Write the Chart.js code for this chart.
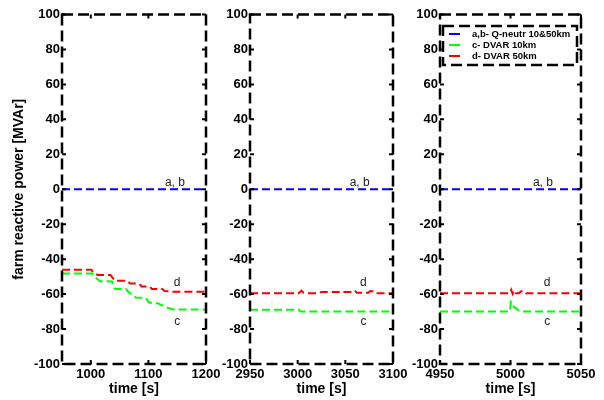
<!DOCTYPE html>
<html>
<head>
<meta charset="utf-8">
<script src="https://cdn.jsdelivr.net/npm/chart.js@4/dist/chart.umd.min.js"></script>
<style>
  html, body { margin: 0; padding: 0; background: #fff; }
  #wrap { position: relative; width: 604px; height: 400px; }
  #wrap canvas { position: absolute; left: 0; top: 0; }
</style>
</head>
<body>
<div id="wrap">
  <canvas id="p1" width="604" height="400"></canvas>
  <canvas id="p2" width="604" height="400"></canvas>
  <canvas id="p3" width="604" height="400"></canvas>
</div>
<script>
// y axis ticks shared by the three panels
const yTicks = [-100, -80, -60, -40, -20, 0, 20, 40, 60, 80, 100];

// panel 1: 950 .. 1200 s
const xTicks1 = [1000, 1100, 1200];
const blue1 = [[950, 0], [1200, 0]];
const green1 = [
  [950, -48.2], [1003, -48.2], [1006, -50], [1016, -52.6], [1037, -52.8],
  [1041, -56.8], [1044, -57.1], [1061, -57.1], [1066, -59], [1078, -61.9],
  [1096, -62.3], [1100, -64.5], [1106, -65.1], [1117, -65.3], [1130, -67.5],
  [1143, -68.8], [1200, -68.8]
];
const red1 = [
  [950, -46.1], [1001, -46.1], [1004, -47.6], [1012, -49], [1034, -49],
  [1042, -52.4], [1064, -52.4], [1068, -54], [1084, -54], [1088, -55.6],
  [1102, -55.6], [1106, -57.1], [1124, -57.1], [1128, -58.3], [1138, -58.5],
  [1142, -58.7], [1200, -58.7]
];

// panel 2: 2950 .. 3100 s
const xTicks2 = [2950, 3000, 3050, 3100];
const blue2 = [[2950, 0], [3100, 0]];
const green2 = [[2950, -69], [3001, -69], [3003, -69.9], [3100, -69.9]];
const red2 = [
  [2950, -59.5], [3001, -59.5], [3004, -58], [3006, -59.2], [3009, -59.5],
  [3022, -59.5], [3025, -58.8], [3043, -58.8], [3045, -58.3], [3047, -58.8],
  [3058, -58.8], [3060, -58], [3062, -59.2], [3074, -59.2], [3076, -58.2],
  [3079, -58.5], [3081, -59.5], [3100, -59.5]
];

// panel 3: 4950 .. 5050 s
const xTicks3 = [4950, 5000, 5050];
const blue3 = [[4950, 0], [5050, 0]];
const green3 = [
  [4950, -70], [4999.5, -70], [5000.3, -64.5], [5001.5, -65.5], [5002.5, -67.5],
  [5004, -68.2], [5006, -69.5], [5008, -70], [5050, -70]
];
const red3 = [
  [4950, -59.5], [4999.5, -59.5], [5000.5, -57.5], [5001.5, -59.8], [5002.5, -58],
  [5003.5, -59.5], [5006, -59.5], [5007.5, -58.4], [5010, -58.4], [5011, -59.5],
  [5050, -59.5]
];

// curve tags [x, y] per panel: "a, b", "d", "c"
const tags1 = [[1146, 4], [1150, -53.3], [1150, -75.8]];
const tags2 = [[3065, 4], [3069, -53.3], [3069, -76]];
const tags3 = [[5023, 4], [5026, -53.3], [5026, -76]];
const tagText = ["a, b", "d", "c"];

const seriesNames = ["a,b- Q-neutr 10&50km", "c- DVAR 10km", "d- DVAR 50km"];
const seriesColors = ["#0000ff", "#00ff00", "#ff0000"];

const FONT = '"Liberation Sans", Arial, sans-serif';

const pts = (arr) => arr.map(([x, y]) => ({ x, y }));

// dashed box around the plot area plus short inward tick marks
const framePlugin = {
  id: "frame",
  afterDatasetsDraw(chart) {
    const { ctx, chartArea: a, scales } = chart;
    ctx.save();
    ctx.strokeStyle = "#000";
    ctx.lineWidth = 2;
    ctx.setLineDash([]);
    ctx.beginPath();
    scales.y.ticks.forEach((t) => {
      const py = scales.y.getPixelForValue(t.value);
      ctx.moveTo(a.left, py); ctx.lineTo(a.left + 4, py);
      ctx.moveTo(a.right, py); ctx.lineTo(a.right - 4, py);
    });
    scales.x.ticks.forEach((t) => {
      const px = scales.x.getPixelForValue(t.value);
      ctx.moveTo(px, a.bottom); ctx.lineTo(px, a.bottom - 4);
      ctx.moveTo(px, a.top); ctx.lineTo(px, a.top + 4);
    });
    ctx.stroke();
    ctx.lineWidth = 2.5;
    ctx.setLineDash([11, 5]);
    ctx.strokeRect(a.left, a.top, a.right - a.left, a.bottom - a.top);
    ctx.restore();
  },
};

// small text tags next to the curves
const tagPlugin = {
  id: "tags",
  afterDatasetsDraw(chart, args, opts) {
    const { ctx, scales } = chart;
    ctx.save();
    ctx.fillStyle = "#222";
    ctx.font = "12px " + FONT;
    ctx.textAlign = "center";
    ctx.textBaseline = "middle";
    opts.items.forEach(([x, y], i) => {
      ctx.fillText(tagText[i], scales.x.getPixelForValue(x), scales.y.getPixelForValue(y));
    });
    ctx.restore();
  },
};

// boxed legend in the upper part of the last panel
const boxLegend = {
  id: "boxLegend",
  afterDraw(chart, args, opts) {
    if (!opts.show) return;
    const ctx = chart.ctx;
    const x0 = 443, y0 = 26, w = 134, h = 39;
    ctx.save();
    ctx.fillStyle = "#fff";
    ctx.fillRect(x0, y0, w, h);
    ctx.strokeStyle = "#000";
    ctx.lineWidth = 2.5;
    ctx.setLineDash([11, 5]);
    ctx.strokeRect(x0, y0, w, h);
    ctx.setLineDash([]);
    ctx.font = "bold 9.5px " + FONT;
    ctx.textBaseline = "middle";
    ctx.textAlign = "left";
    chart.data.datasets.forEach((ds, i) => {
      const ry = y0 + 8 + i * 11;
      ctx.strokeStyle = ds.borderColor;
      ctx.lineWidth = 2;
      ctx.beginPath();
      ctx.moveTo(449, ry); ctx.lineTo(460, ry);
      ctx.stroke();
      ctx.fillStyle = "#000";
      ctx.fillText(ds.label, 472, ry);
    });
    ctx.restore();
  },
};

function makePanel(id, opt) {
  const datasets = [opt.blue, opt.green, opt.red].map((d, i) => ({
    label: seriesNames[i],
    data: pts(d),
    borderColor: seriesColors[i],
    borderWidth: 2,
    borderDash: [8, 4],
    pointRadius: 0,
    fill: false,
    tension: 0,
  }));

  new Chart(document.getElementById(id), {
    type: "line",
    data: { datasets },
    plugins: [framePlugin, tagPlugin, boxLegend],
    options: {
      responsive: false,
      animation: false,
      events: [],
      layout: { padding: { left: opt.padLeft, right: opt.padRight, top: 14.5, bottom: 0 } },
      scales: {
        x: {
          type: "linear",
          min: opt.min,
          max: opt.max,
          afterBuildTicks: (s) => { s.ticks = opt.xTicks.map((v) => ({ value: v })); },
          afterFit: (s) => { s.height = 36; },
          grid: { display: false, drawTicks: false },
          border: { display: false },
          ticks: {
            autoSkip: false,
            maxRotation: 0,
            padding: 3,
            color: "#000",
            font: { family: FONT, size: 13, weight: "bold" },
            callback: (v) => String(v),
          },
          title: {
            display: true,
            text: "time [s]",
            color: "#000",
            font: { family: FONT, size: 14, weight: "bold" },
            padding: { top: 0, bottom: 2 },
          },
        },
        y: {
          min: -100,
          max: 100,
          afterBuildTicks: (s) => { s.ticks = yTicks.map((v) => ({ value: v })); },
          afterFit: (s) => { s.width = opt.yWidth; },
          grid: { display: false, drawTicks: false },
          border: { display: false },
          ticks: {
            padding: 2,
            color: "#000",
            font: { family: FONT, size: 13, weight: "bold" },
            callback: (v) => String(v),
          },
          title: {
            display: !!opt.yTitle,
            text: opt.yTitle || "",
            color: "#000",
            font: { family: FONT, size: 14, weight: "bold" },
            padding: { top: 11, bottom: 0 },
          },
        },
      },
      plugins: {
        legend: { display: false },
        tooltip: { enabled: false },
        tags: { items: opt.tags },
        boxLegend: { show: !!opt.legend },
      },
    },
  });
}

makePanel("p1", {
  min: 950, max: 1200, xTicks: xTicks1,
  blue: blue1, green: green1, red: red1, tags: tags1,
  padLeft: 0, padRight: 604 - 206, yWidth: 62,
  yTitle: "farm reactive power [MVAr]",
});
makePanel("p2", {
  min: 2950, max: 3100, xTicks: xTicks2,
  blue: blue2, green: green2, red: red2, tags: tags2,
  padLeft: 250 - 40, padRight: 604 - 393, yWidth: 40,
});
makePanel("p3", {
  min: 4950, max: 5050, xTicks: xTicks3,
  blue: blue3, green: green3, red: red3, tags: tags3,
  padLeft: 440 - 40, padRight: 604 - 581, yWidth: 40,
  legend: true,
});
</script>
</body>
</html>
